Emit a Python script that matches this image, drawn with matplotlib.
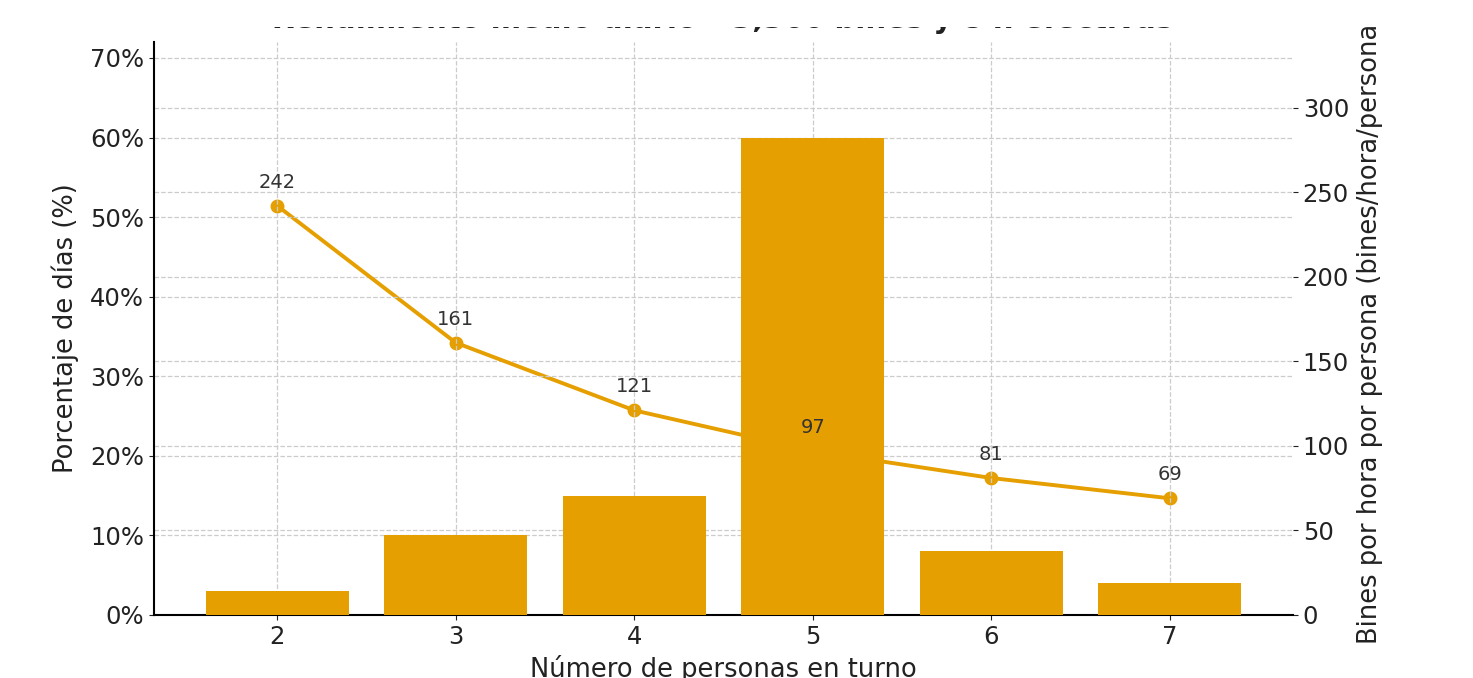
import matplotlib
matplotlib.use("Agg")
import matplotlib.pyplot as plt
from matplotlib.patches import Rectangle
from matplotlib.ticker import PercentFormatter

# personas por turno, % de días y rendimiento por persona
personas = [2, 3, 4, 5, 6, 7]
pct_dias = [3, 10, 15, 60, 8, 4]
bines_hora_persona = [242, 161, 121, 97, 81, 69]

color = "#E69F00"
texto = "#222222"

plt.rcParams["font.family"] = ["DejaVu Sans"]
plt.rcParams["text.color"] = texto
plt.rcParams["axes.labelcolor"] = texto
plt.rcParams["xtick.color"] = texto
plt.rcParams["ytick.color"] = texto

W, H = 1473, 678
fig = plt.figure(figsize=(W / 100, H / 100), dpi=100)
ax = fig.add_axes([154 / W, 63 / H, (1293 - 154) / W, (615 - 42) / H])
ax2 = ax.twinx()

# barras encima de la línea
ax2.set_zorder(ax.get_zorder() - 1)
ax.patch.set_visible(False)

ax.bar(personas, pct_dias, width=0.8, color=color, zorder=3)
ax.set_ylim(0, max(pct_dias) * 1.2)
ax.yaxis.set_major_formatter(PercentFormatter(decimals=0))
ax.set_xticks(personas)

ax2.plot(personas, bines_hora_persona, "-o", color=color, lw=2.8, ms=9, zorder=2)
ax2.set_ylim(0, max(bines_hora_persona) * 1.4)

for x, v in zip(personas, bines_hora_persona):
    ax.annotate(str(v), (x, v), xycoords=ax2.transData, textcoords="offset points",
                xytext=(0, 10), ha="center", va="bottom", fontsize=14, color="#333333",
                zorder=5)

ax.grid(True, linestyle="--", color="#cccccc", linewidth=0.9)
ax2.grid(True, axis="y", linestyle="--", color="#cccccc", linewidth=0.9)

for a in (ax, ax2):
    a.spines["top"].set_visible(False)
    a.spines["right"].set_visible(False)
    a.tick_params(labelsize=17.5)
ax2.spines["left"].set_visible(False)
ax2.spines["bottom"].set_visible(False)
ax.spines["left"].set_linewidth(1.5)
ax.spines["bottom"].set_linewidth(1.5)

ax.set_xlabel("Número de personas en turno", fontsize=18.5, labelpad=4.5)
ax.set_ylabel("Porcentaje de días (%)", fontsize=18.5, labelpad=8)
ax2.set_ylabel("Bines por hora por persona (bines/hora/persona)", fontsize=18.5, labelpad=6)

fig.text(723 / W, 1 - 27.8 / H, "Rendimiento medio diario – 3,360 bines y 8 h efectivas",
         ha="center", va="baseline", fontsize=21, fontweight="bold")

# franja superior en blanco: del título solo asoma el borde inferior
fig.patches.append(Rectangle((0, 1 - 27 / H), 1, 27 / H, transform=fig.transFigure,
                             facecolor="white", edgecolor="none", zorder=10))

fig.savefig("out.png", dpi=100)
